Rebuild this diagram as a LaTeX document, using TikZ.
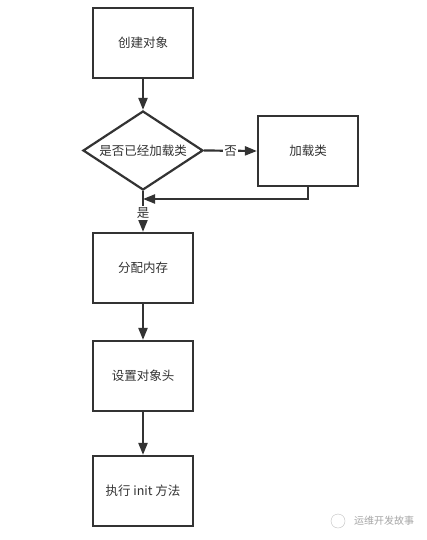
\documentclass[tikz,border=0pt]{standalone}
\usepackage{fontspec}
\setmainfont{Noto Sans CJK SC}
\usetikzlibrary{arrows.meta,shapes.geometric}
\definecolor{ln}{HTML}{333333}
\begin{document}
\begin{tikzpicture}[x=1pt,y=-1pt,
  box/.style={draw=ln,line width=2.2pt,minimum width=100pt,minimum height=70pt,inner sep=0pt,font=\fontsize{12.5}{14}\selectfont,text=ln},
  dia/.style={draw=ln,line width=2.2pt,diamond,minimum width=120pt,minimum height=79pt,inner sep=0pt,font=\fontsize{12.5}{14}\selectfont,text=ln},
  conn/.style={draw=ln,line width=2.2pt,-{Triangle[length=12pt,width=9pt]}},
  lab/.style={fill=white,inner sep=1.5pt,font=\fontsize{12.5}{14}\selectfont,text=ln}]
\useasboundingbox (0,0) rectangle (427,540);
\fill[white] (0,0) rectangle (427,540);
\node[box] (a) at (143,43) {创建对象};
\node[dia,aspect=1.52] (d) at (143,150.5) {是否已经加载类};
\node[box] (l) at (308,151) {加载类};
\node[box] (m) at (143,268) {分配内存};
\node[box] (h) at (143,376) {设置对象头};
\node[box] (i) at (143,491) {执行 init 方法};
\coordinate (rb) at (308,199);
\coordinate (rj) at (143,199);
\draw[conn] (a) -- (d);
\draw[conn] (d.east) -- node[lab,pos=0.5] {否} (l.west);
\draw[conn] (d.south) -- node[lab,pos=0.53] {是} (m.north);
\draw[conn] (l.south) -- (rb) -- (rj);
\draw[conn] (m) -- (h);
\draw[conn] (h) -- (i);
\node[draw=gray!50,circle,inner sep=0pt,minimum size=14pt] (wi) at (338,521) {};
\node[text=gray!70,font=\fontsize{10}{11}\selectfont,anchor=west,inner sep=0pt] (wt) at (354,521) {运维开发故事};
\end{tikzpicture}
\end{document}
